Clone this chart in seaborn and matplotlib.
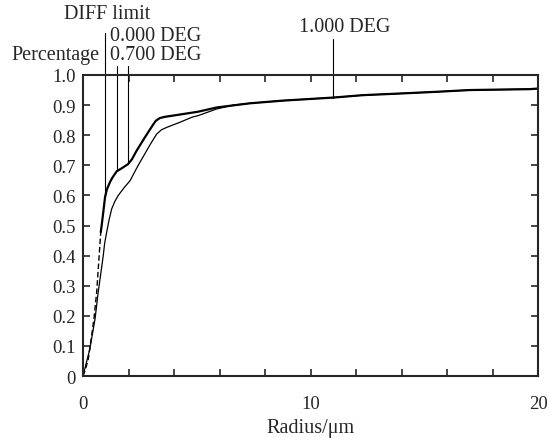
import numpy as np
import pandas as pd
import seaborn as sns
import matplotlib.pyplot as plt

# Encircled energy curves
upper_x = [0.78, 0.82, 0.9, 0.97, 1.05, 1.19, 1.3, 1.48, 1.7, 1.98, 2.15, 2.36, 2.73, 3.08,
           3.2, 3.38, 3.6, 4.12, 5.06, 5.87, 7.34, 8.81, 11.0, 12.3, 13.8, 15.5, 17.0, 19.65, 20.0]
upper_y = [0.478, 0.50, 0.55, 0.595, 0.62, 0.645, 0.66, 0.68, 0.69, 0.704, 0.72, 0.749, 0.794, 0.835,
           0.848, 0.857, 0.861, 0.867, 0.878, 0.892, 0.906, 0.915, 0.925, 0.933, 0.938, 0.944, 0.950, 0.953, 0.955]

lower_x = [0.0, 0.1, 0.3, 0.53, 0.67, 0.89, 0.95, 1.04, 1.15, 1.26, 1.4, 1.55, 1.8, 2.07, 2.25,
           2.42, 2.8, 3.0, 3.24, 3.45, 3.68, 4.26, 4.8, 5.06, 5.87, 6.6, 7.34, 8.81, 11.0,
           12.3, 13.8, 15.5, 17.0, 19.65, 20.0]
lower_y = [0.0, 0.03, 0.09, 0.19, 0.28, 0.40, 0.44, 0.478, 0.52, 0.555, 0.58, 0.60, 0.625, 0.649, 0.675,
           0.699, 0.749, 0.775, 0.804, 0.818, 0.826, 0.843, 0.86, 0.865, 0.887, 0.900, 0.906, 0.915, 0.925,
           0.933, 0.938, 0.944, 0.950, 0.953, 0.955]

diff_x = [0.0, 0.1, 0.23, 0.38, 0.48, 0.6, 0.7, 0.78]
diff_y = [0.0, 0.02, 0.056, 0.134, 0.19, 0.278, 0.389, 0.478]

# pointer lines for the annotations
marker_x = [0.97, 1.48, 1.98, 11.0]
marker_top = [1.14, 1.03, 1.03, 1.12]
marker_bottom = [0.595, 0.68, 0.704, 0.925]

x_ticks = np.arange(0, 21, 2)
x_labels = ["0", "", "", "", "", "10", "", "", "", "", "20"]
y_ticks = np.round(np.arange(0, 1.01, 0.1), 1)
y_labels = ["0"] + [f"{v:.1f}" for v in y_ticks[1:]]

sns.set_style("ticks")
plt.rcParams['font.family'] = ['Liberation Serif', 'DejaVu Serif']
plt.rcParams['font.size'] = 13.5

fig = plt.figure(figsize=(5.49, 4.39), dpi=100)
ax = fig.add_axes([0.1512, 0.1412, 0.8288, 0.6857])

sns.lineplot(x=upper_x, y=upper_y, ax=ax, color="black", linewidth=1.6, sort=False)
sns.lineplot(x=lower_x, y=lower_y, ax=ax, color="black", linewidth=0.9, sort=False)
sns.lineplot(x=diff_x, y=diff_y, ax=ax, color="black", linewidth=1.0, sort=False,
             dashes=False, linestyle=(0, (4, 2)))

for mx, top, bot in zip(marker_x, marker_top, marker_bottom):
    ax.plot([mx, mx], [bot, top], color="black", linewidth=0.8, clip_on=False)

ax.text(1.08, 1.205, "DIFF limit", ha="center", va="center", fontsize=14.5)
ax.text(1.19, 1.13, "0.000 DEG", ha="left", va="center", fontsize=14.5)
ax.text(0.72, 1.068, "Percentage", ha="right", va="center", fontsize=14.5)
ax.text(1.19, 1.068, "0.700 DEG", ha="left", va="center", fontsize=14.5)
ax.text(11.5, 1.16, "1.000 DEG", ha="center", va="center", fontsize=14.5)

ax.set_xlim(0, 20)
ax.set_ylim(0, 1.0)
ax.set_xticks(x_ticks)
ax.set_xticklabels(x_labels)
ax.set_yticks(y_ticks)
ax.set_yticklabels(y_labels)
ax.tick_params(direction="in", length=5, width=1.2, top=True, right=True,
               labeltop=False, labelright=False)
ax.tick_params(axis="x", pad=14)
ax.tick_params(axis="y", pad=5)
for s in ax.spines.values():
    s.set_visible(True)
    s.set_linewidth(1.5)

ax.set_xlabel("Radius/μm", fontsize=14.5)
ax.xaxis.set_label_coords(0.5, -0.14)
ax.set_ylabel("")

fig.savefig("out.png", dpi=100)
